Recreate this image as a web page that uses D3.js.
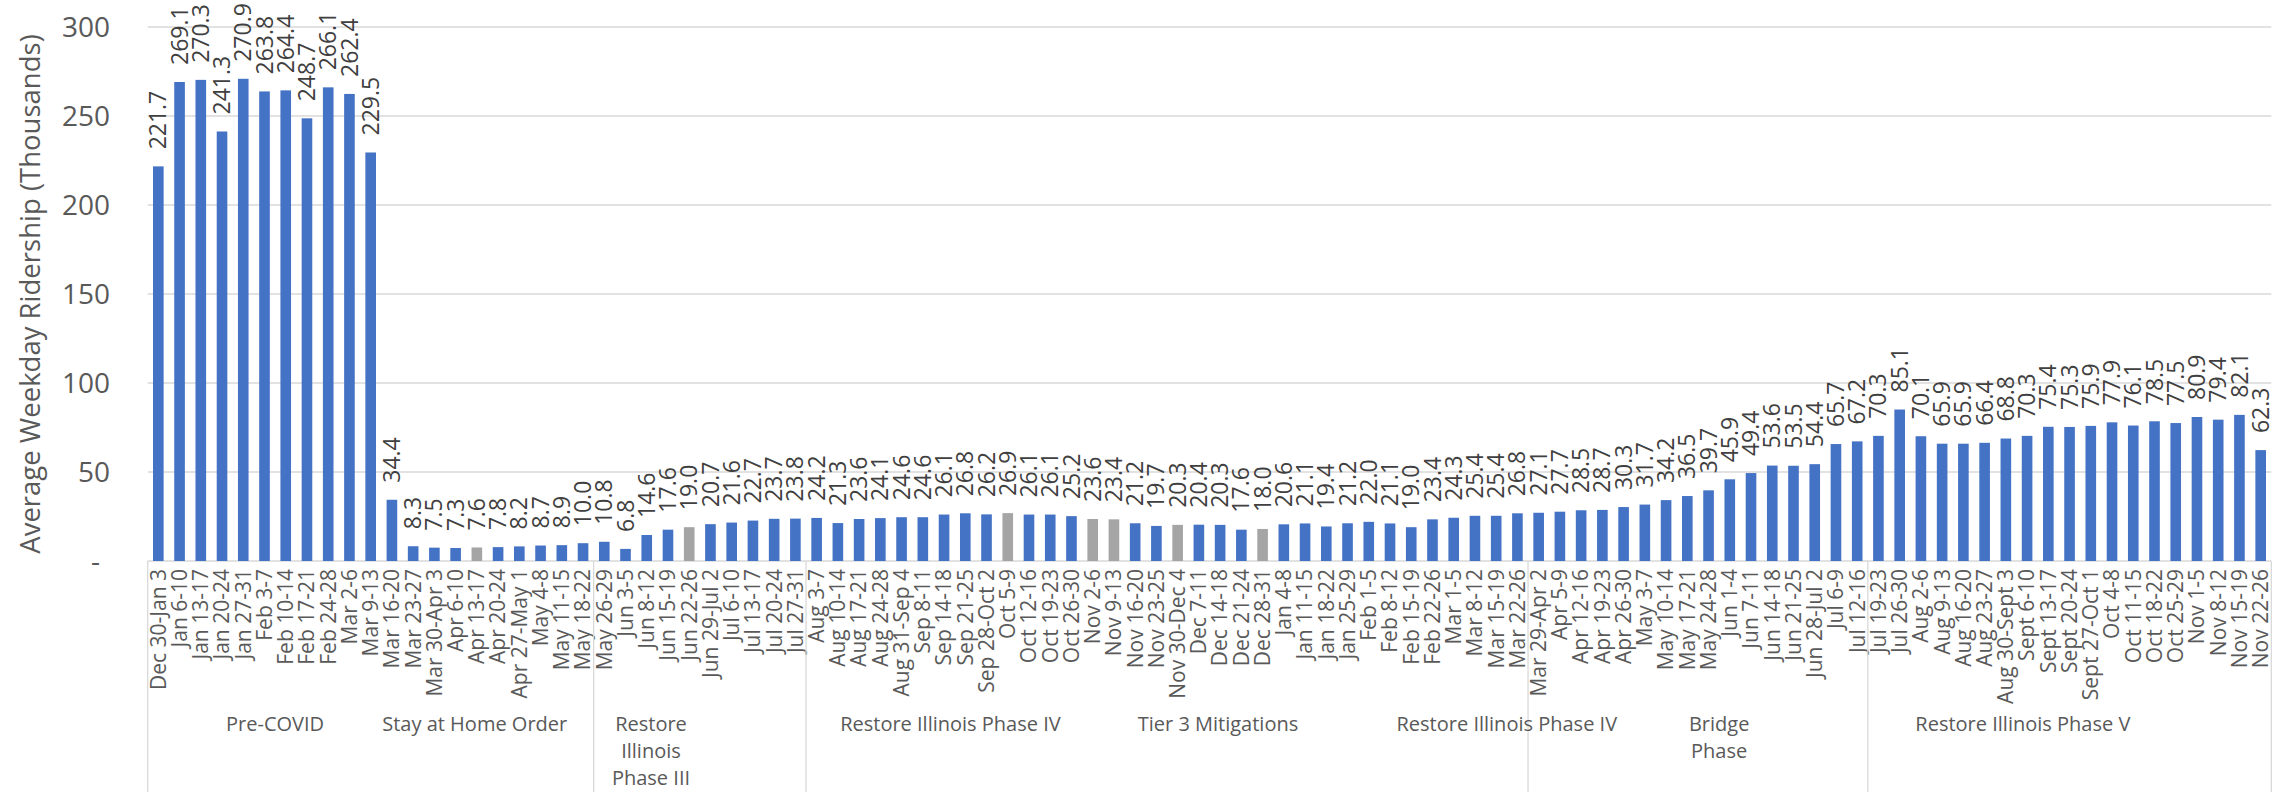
<!DOCTYPE html>
<html>
<head>
<meta charset="utf-8">
<script src="https://d3js.org/d3.v7.min.js"></script>
<style>
    body {
        margin: 0;
        background: #fff;
        font-family: "Open Sans", sans-serif;
    }
    .grid line {
        stroke: #d9d9d9;
        stroke-width: 1.3px;
    }
    .divider {
        stroke: #d9d9d9;
        stroke-width: 1.3px;
    }
    .ytick {
        font-size: 28px;
        fill: #595959;
    }
    .ytitle {
        font-size: 27.5px;
        fill: #595959;
    }
    .value {
        font-size: 23px;
        fill: #404040;
    }
    .week {
        font-size: 21px;
        fill: #595959;
    }
    .phase {
        font-size: 20px;
        fill: #595959;
    }
</style>
</head>
<body>
<script>
    const weeks = [
        "Dec 30-Jan 3", "Jan 6-10", "Jan 13-17", "Jan 20-24", "Jan 27-31", "Feb 3-7", "Feb 10-14",
        "Feb 17-21", "Feb 24-28", "Mar 2-6", "Mar 9-13", "Mar 16-20", "Mar 23-27", "Mar 30-Apr 3",
        "Apr 6-10", "Apr 13-17", "Apr 20-24", "Apr 27-May 1", "May 4-8", "May 11-15", "May 18-22",
        "May 26-29", "Jun 3-5", "Jun 8-12", "Jun 15-19", "Jun 22-26", "Jun 29-Jul 2", "Jul 6-10",
        "Jul 13-17", "Jul 20-24", "Jul 27-31", "Aug 3-7", "Aug 10-14", "Aug 17-21", "Aug 24-28",
        "Aug 31-Sep 4", "Sep 8-11", "Sep 14-18", "Sep 21-25", "Sep 28-Oct 2", "Oct 5-9", "Oct 12-16",
        "Oct 19-23", "Oct 26-30", "Nov 2-6", "Nov 9-13", "Nov 16-20", "Nov 23-25", "Nov 30-Dec 4",
        "Dec 7-11", "Dec 14-18", "Dec 21-24", "Dec 28-31", "Jan 4-8", "Jan 11-15", "Jan 18-22",
        "Jan 25-29", "Feb 1-5", "Feb 8-12", "Feb 15-19", "Feb 22-26", "Mar 1-5", "Mar 8-12",
        "Mar 15-19", "Mar 22-26", "Mar 29-Apr 2", "Apr 5-9", "Apr 12-16", "Apr 19-23", "Apr 26-30",
        "May 3-7", "May 10-14", "May 17-21", "May 24-28", "Jun 1-4", "Jun 7-11", "Jun 14-18",
        "Jun 21-25", "Jun 28-Jul 2", "Jul 6-9", "Jul 12-16", "Jul 19-23", "Jul 26-30", "Aug 2-6",
        "Aug 9-13", "Aug 16-20", "Aug 23-27", "Aug 30-Sept 3", "Sept 6-10", "Sept 13-17",
        "Sept 20-24", "Sept 27-Oct 1", "Oct 4-8", "Oct 11-15", "Oct 18-22", "Oct 25-29",
        "Nov 1-5", "Nov 8-12", "Nov 15-19", "Nov 22-26"
    ];

    const ridership = [
        221.7, 269.1, 270.3, 241.3, 270.9, 263.8, 264.4, 248.7, 266.1, 262.4, 229.5, 34.4,
        8.3, 7.5, 7.3, 7.6, 7.8, 8.2, 8.7, 8.9, 10.0,
        10.8, 6.8, 14.6, 17.6, 19.0, 20.7, 21.6, 22.7, 23.7, 23.8,
        24.2, 21.3, 23.6, 24.1, 24.6, 24.6, 26.1, 26.8, 26.2, 26.9, 26.1, 26.1, 25.2, 23.6, 23.4,
        21.2, 19.7, 20.3, 20.4, 20.3, 17.6, 18.0, 20.6, 21.1, 19.4, 21.2, 22.0, 21.1, 19.0,
        23.4, 24.3, 25.4, 25.4, 26.8,
        27.1, 27.7, 28.5, 28.7, 30.3, 31.7, 34.2, 36.5, 39.7, 45.9, 49.4, 53.6, 53.5, 54.4,
        65.7, 67.2,
        70.3, 85.1, 70.1, 65.9, 65.9, 66.4, 68.8, 70.3, 75.4, 75.3, 75.9, 77.9, 76.1, 78.5,
        77.5, 80.9, 79.4, 82.1, 62.3
    ];

    // weeks drawn in grey (holiday weeks)
    const greyWeeks = ["Apr 13-17", "Jun 22-26", "Oct 5-9", "Nov 2-6", "Nov 9-13", "Nov 30-Dec 4", "Dec 28-31"];

    const yTicks = [0, 50, 100, 150, 200, 250, 300];

    // phase labels and the week index they sit over
    const phaseNames = [
        ["Pre-COVID"], ["Stay at Home Order"], ["Restore", "Illinois", "Phase III"],
        ["Restore Illinois Phase IV"], ["Tier 3 Mitigations"], ["Restore Illinois Phase IV"],
        ["Bridge", "Phase"], ["Restore Illinois Phase V"]
    ];
    const phaseMid = [5.5, 14.9, 23.2, 37.3, 49.9, 63.5, 73.5, 87.8];

    // weeks that start a section of the category axis
    const sectionStarts = ["Dec 30-Jan 3", "May 26-29", "Aug 3-7", "Mar 29-Apr 2", "Jul 19-23"];

    const width = 2285, height = 792;

    const svg = d3.select("body").append("svg")
        .attr("width", width)
        .attr("height", height);

    const x = d3.scaleBand()
        .domain(d3.range(weeks.length))
        .range([147.7, 2271.3])
        .paddingInner(0.5)
        .paddingOuter(0.25);

    const y = d3.scaleLinear()
        .domain([0, 300])
        .range([561, 27]);

    const x0 = x.range()[0], x1 = x.range()[1];

    // gridlines
    svg.append("g")
        .attr("class", "grid")
        .selectAll("line")
        .data(yTicks)
        .enter().append("line")
        .attr("x1", x0)
        .attr("x2", x1)
        .attr("y1", d => y(d))
        .attr("y2", d => y(d));

    // y tick labels
    svg.append("g")
        .selectAll("text")
        .data(yTicks)
        .enter().append("text")
        .attr("class", "ytick")
        .attr("x", d => d === 0 ? 100 : 110)
        .attr("y", d => y(d))
        .attr("dy", "0.35em")
        .attr("text-anchor", "end")
        .text(d => d === 0 ? "-" : d);

    svg.append("text")
        .attr("class", "ytitle")
        .attr("transform", `translate(30,${(y(0) + y(300)) / 2}) rotate(-90)`)
        .attr("text-anchor", "middle")
        .attr("dy", "0.35em")
        .text("Average Weekday Ridership (Thousands)");

    // bars
    svg.append("g")
        .selectAll("rect")
        .data(ridership)
        .enter().append("rect")
        .attr("x", (d, i) => x(i))
        .attr("width", x.bandwidth())
        .attr("y", d => y(d))
        .attr("height", d => y(0) - y(d))
        .attr("fill", (d, i) => greyWeeks.includes(weeks[i]) ? "#a5a5a5" : "#4472c4");

    // value labels
    svg.append("g")
        .selectAll("text")
        .data(ridership)
        .enter().append("text")
        .attr("class", "value")
        .attr("transform", (d, i) => `translate(${x(i) + x.bandwidth() / 2},${y(d) - 17}) rotate(-90)`)
        .attr("dy", "0.35em")
        .text(d => d3.format(".1f")(d));

    // week labels
    svg.append("g")
        .selectAll("text")
        .data(weeks)
        .enter().append("text")
        .attr("class", "week")
        .attr("transform", (d, i) => `translate(${x(i) + x.bandwidth() / 2},${y(0) + 8}) rotate(-90)`)
        .attr("text-anchor", "end")
        .attr("dy", "0.35em")
        .text(d => d);

    // section dividers
    const bounds = sectionStarts.map(w => weeks.indexOf(w)).concat([weeks.length]);
    svg.append("g")
        .selectAll("line")
        .data(bounds)
        .enter().append("line")
        .attr("class", "divider")
        .attr("x1", k => x0 + k * x.step())
        .attr("x2", k => x0 + k * x.step())
        .attr("y1", y(0))
        .attr("y2", height);

    // phase labels
    const phase = svg.append("g")
        .selectAll("text")
        .data(phaseNames)
        .enter().append("text")
        .attr("class", "phase")
        .attr("text-anchor", "middle")
        .attr("x", (d, i) => x(0) + x.bandwidth() / 2 + phaseMid[i] * x.step())
        .attr("y", 731);

    phase.selectAll("tspan")
        .data(d => d)
        .enter().append("tspan")
        .attr("x", function () { return d3.select(this.parentNode).attr("x"); })
        .attr("dy", (d, i) => i === 0 ? 0 : 27)
        .text(d => d);
</script>
</body>
</html>
